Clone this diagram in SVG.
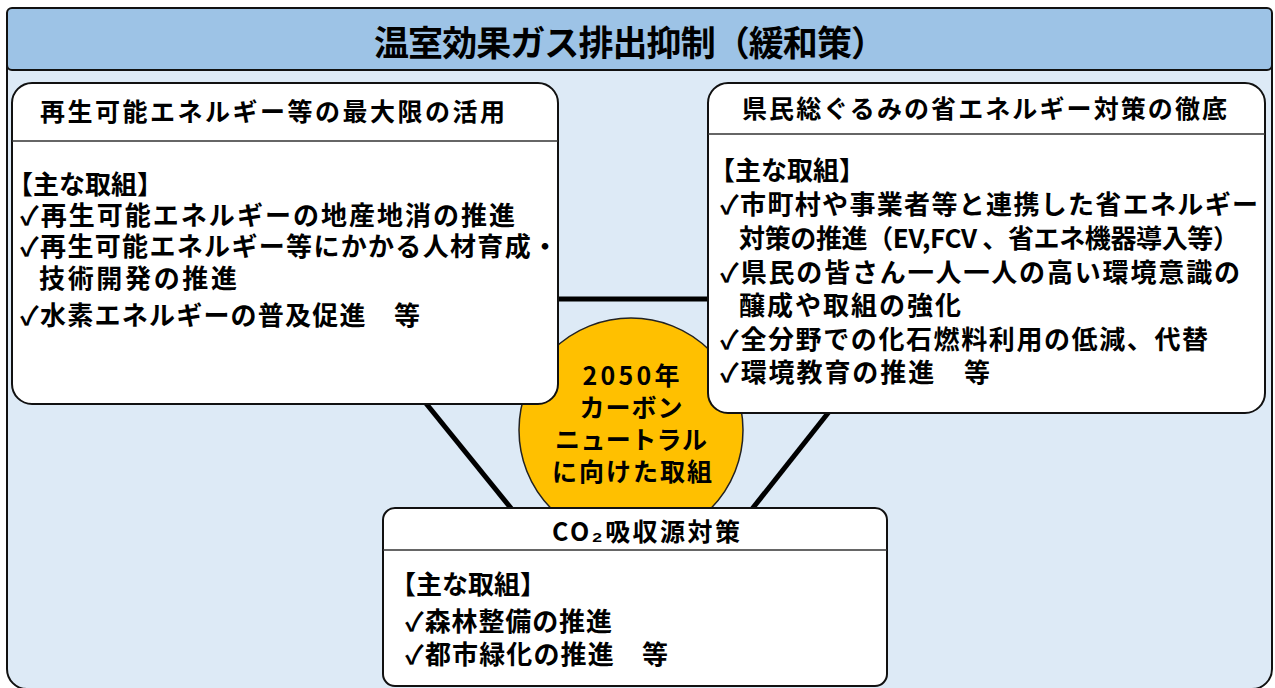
<svg xmlns="http://www.w3.org/2000/svg" width="1275" height="688" viewBox="0 0 1275 688">
<style>
text{font-family:"Noto Sans CJK JP","Noto Sans CJK SC",sans-serif;font-weight:bold;fill:#000}
.frame{fill:#DDEAF6;stroke:#111;stroke-width:2}
.head{fill:#9DC3E6;stroke:#111;stroke-width:2}
.box{fill:#fff;stroke:#111;stroke-width:2}
.div{stroke:#333;stroke-width:1.5}
.conn{stroke:#000;stroke-width:5;fill:none}
.t1{font-size:35px}
.t2{font-size:25px}
.b{font-size:26px}
.c{font-size:25px}
</style>
<g id="frame">
<rect class="frame" x="7" y="8" width="1265" height="681" rx="20"/>
<rect class="head" x="7" y="8" width="1265" height="62" rx="5"/>
<text class="t1" x="374" y="56" textLength="512" lengthAdjust="spacing">温室効果ガス排出抑制（緩和策）</text>
</g>
<g id="connectors">
<line class="conn" x1="540" y1="299" x2="730" y2="299"/>
<line class="conn" x1="403" y1="375" x2="527" y2="528"/>
<line class="conn" x1="851" y1="384" x2="737" y2="528"/>
</g>
<g id="center">
<circle cx="631" cy="430" r="112" fill="#FFC000" stroke="#222" stroke-width="1.5"/>
<text class="c" x="631" y="385" text-anchor="middle" textLength="97" lengthAdjust="spacing">2050年</text>
<text class="c" x="631" y="417" text-anchor="middle" textLength="103" lengthAdjust="spacing">カーボン</text>
<text class="c" x="631" y="449" text-anchor="middle" textLength="152" lengthAdjust="spacing">ニュートラル</text>
<text class="c" x="632" y="481" text-anchor="middle" textLength="160" lengthAdjust="spacing">に向けた取組</text>
</g>
<g id="renewable">
<rect class="box" x="12" y="83" width="546" height="321" rx="20"/>
<line class="div" x1="12" y1="141" x2="558" y2="141"/>
<text class="t2" x="40" y="121" textLength="465" lengthAdjust="spacing">再生可能エネルギー等の最大限の活用</text>
<text class="b" x="7" y="194">【主な取組】</text>
<text class="b" x="20" y="225" textLength="495" lengthAdjust="spacing">✓再生可能エネルギーの地産地消の推進</text>
<text class="b" x="20" y="256" textLength="538" lengthAdjust="spacing">✓再生可能エネルギー等にかかる人材育成・</text>
<text class="b" x="39" y="288" textLength="198" lengthAdjust="spacing">技術開発の推進</text>
<text class="b" x="20" y="325" textLength="400" lengthAdjust="spacing">✓水素エネルギーの普及促進　等</text>
</g>
<g id="energy-saving">
<rect class="box" x="708" y="83" width="557" height="330" rx="20"/>
<line class="div" x1="708" y1="134" x2="1265" y2="134"/>
<text class="t2" x="742" y="118" textLength="485" lengthAdjust="spacing">県民総ぐるみの省エネルギー対策の徹底</text>
<text class="b" x="709" y="180">【主な取組】</text>
<text class="b" x="720" y="214" textLength="538" lengthAdjust="spacing">✓市町村や事業者等と連携した省エネルギー</text>
<text class="b" x="739" y="248" textLength="500" lengthAdjust="spacing">対策の推進（EV,FCV 、省エネ機器導入等）</text>
<text class="b" x="720" y="282" textLength="520" lengthAdjust="spacing">✓県民の皆さん一人一人の高い環境意識の</text>
<text class="b" x="739" y="315" textLength="222" lengthAdjust="spacing">醸成や取組の強化</text>
<text class="b" x="720" y="349" textLength="488" lengthAdjust="spacing">✓全分野での化石燃料利用の低減、代替</text>
<text class="b" x="720" y="382" textLength="270" lengthAdjust="spacing">✓環境教育の推進　等</text>
</g>
<g id="co2-sink">
<rect class="box" x="383" y="508" width="504" height="178" rx="12"/>
<line class="div" x1="383" y1="550" x2="887" y2="550"/>
<text class="t2" x="552" y="541" textLength="188" lengthAdjust="spacing">CO₂吸収源対策</text>
<text class="b" x="390" y="594">【主な取組】</text>
<text class="b" x="405" y="631" textLength="207" lengthAdjust="spacing">✓森林整備の推進</text>
<text class="b" x="405" y="664" textLength="263" lengthAdjust="spacing">✓都市緑化の推進　等</text>
</g>
</svg>
